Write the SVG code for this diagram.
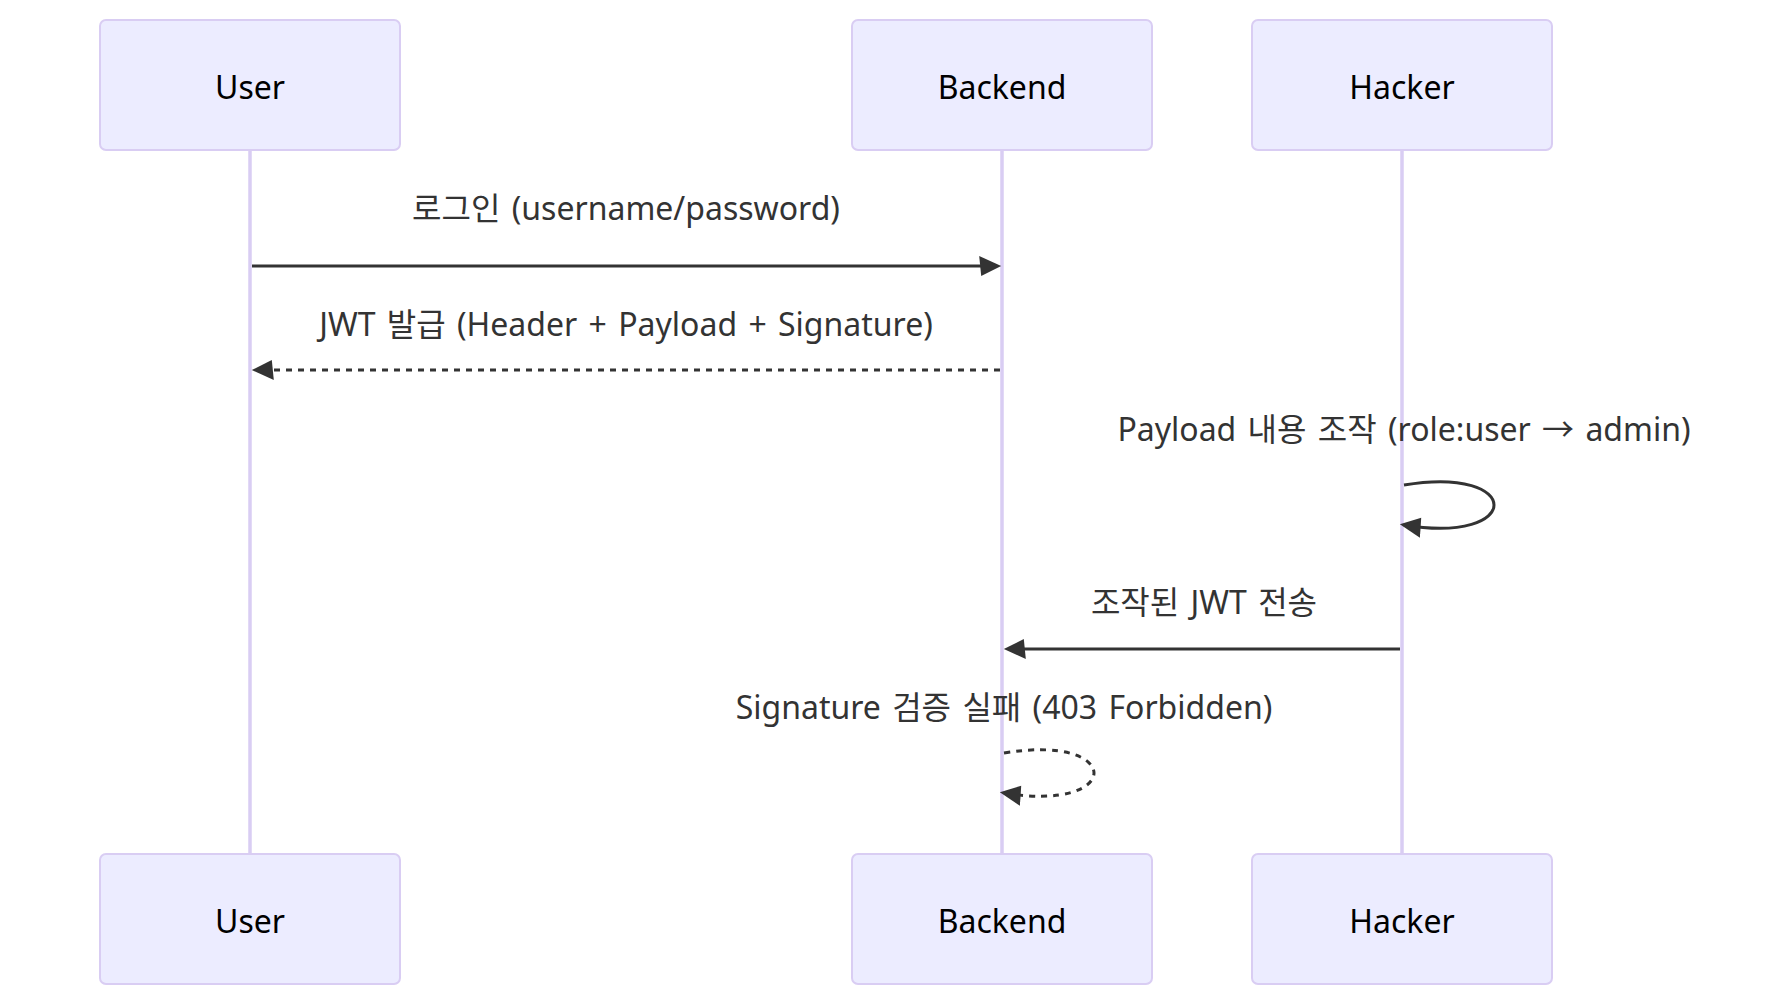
<svg xmlns="http://www.w3.org/2000/svg" width="1785" height="1006" viewBox="0 0 1785 1006">
<defs>
<style>
.actor{fill:#ECECFF;stroke:#D9CDF3;stroke-width:2}
.atext{font-family:"Noto Sans","Noto Sans CJK KR",sans-serif;font-size:32px;fill:#000;text-anchor:middle;dominant-baseline:central}
.mtext{font-family:"Noto Sans","Noto Sans CJK KR",sans-serif;font-size:32px;fill:#333;text-anchor:middle;dominant-baseline:central;word-spacing:3px}
.life{stroke:#D9CDF3;stroke-width:3.5;fill:none}
.msg{stroke:#333;stroke-width:3;fill:none}
.dash{stroke-dasharray:6,6}
</style>
<marker id="ah" refX="15.8" refY="10" markerUnits="userSpaceOnUse" markerWidth="24" markerHeight="24" orient="auto-start-reverse" viewBox="-2 0 24 20">
<path d="M -2 0 L 20 10 L 0 20 z" fill="#333" stroke="none"/>
</marker>
</defs>
<rect width="1785" height="1006" fill="#fff"/>
<g id="lifelines">
<line class="life" x1="250" y1="150" x2="250" y2="854"/>
<line class="life" x1="1002" y1="150" x2="1002" y2="854"/>
<line class="life" x1="1402" y1="150" x2="1402" y2="854"/>
</g>
<g id="actor-user-top"><rect class="actor" x="100" y="20" width="300" height="130" rx="6"/><text class="atext" x="250" y="86">User</text></g>
<g id="actor-backend-top"><rect class="actor" x="852" y="20" width="300" height="130" rx="6"/><text class="atext" x="1002" y="86">Backend</text></g>
<g id="actor-hacker-top"><rect class="actor" x="1252" y="20" width="300" height="130" rx="6"/><text class="atext" x="1402" y="86">Hacker</text></g>
<g id="actor-user-bottom"><rect class="actor" x="100" y="854" width="300" height="130" rx="6"/><text class="atext" x="250" y="920">User</text></g>
<g id="actor-backend-bottom"><rect class="actor" x="852" y="854" width="300" height="130" rx="6"/><text class="atext" x="1002" y="920">Backend</text></g>
<g id="actor-hacker-bottom"><rect class="actor" x="1252" y="854" width="300" height="130" rx="6"/><text class="atext" x="1402" y="920">Hacker</text></g>
<g id="connectors">
<line class="msg" x1="252" y1="266" x2="997" y2="266" marker-end="url(#ah)"/>
<line class="msg dash" x1="1000" y1="370" x2="256" y2="370" marker-end="url(#ah)"/>
<path class="msg" d="M 1404,485 C 1524,465 1524,545 1404,525" marker-end="url(#ah)"/>
<line class="msg" x1="1400" y1="649" x2="1008" y2="649" marker-end="url(#ah)"/>
<path class="msg dash" d="M 1004,753 C 1124,733 1124,813 1004,793" marker-end="url(#ah)"/>
</g>
<g id="labels">
<text class="mtext" x="626" y="207">로그인 (username/password)</text>
<text class="mtext" x="626" y="323">JWT 발급 (Header + Payload + Signature)</text>
<text class="mtext" x="1404" y="428">Payload 내용 조작 (role:user → admin)</text>
<text class="mtext" x="1204" y="601">조작된 JWT 전송</text>
<text class="mtext" x="1004" y="706">Signature 검증 실패 (403 Forbidden)</text>
</g>
</svg>
